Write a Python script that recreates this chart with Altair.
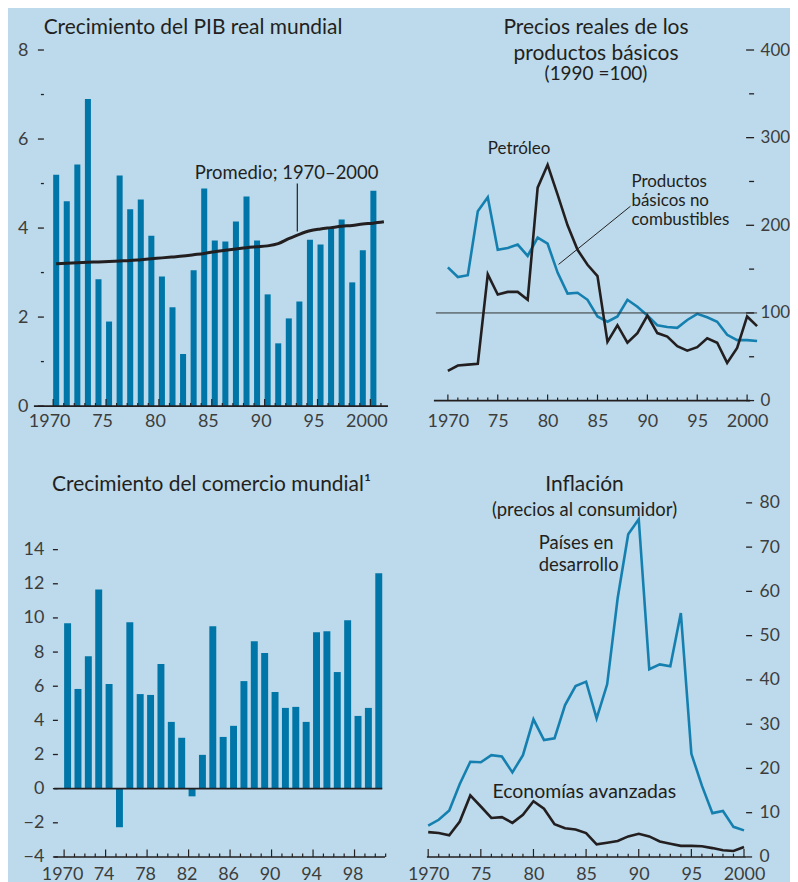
import altair as alt
import pandas as pd

# ---------------- data ----------------
years = list(range(1970, 2001))
gdp_growth = [5.2, 4.6, 5.43, 6.9, 2.85, 1.9, 5.18, 4.42, 4.64, 3.83, 2.91, 2.22, 1.17, 3.05, 4.89,
              3.72, 3.70, 4.15, 4.71, 3.72, 2.51, 1.41, 1.97, 2.35, 3.74, 3.63, 3.99, 4.19, 2.78, 3.50, 4.84]
avg_years = list(range(1970, 2002))
gdp_avg = [3.20, 3.21, 3.22, 3.23, 3.24, 3.25, 3.26, 3.27, 3.29, 3.31, 3.33, 3.35, 3.37, 3.40, 3.43, 3.47,
           3.50, 3.53, 3.56, 3.58, 3.60, 3.65, 3.76, 3.86, 3.94, 3.98, 4.01, 4.04, 4.06, 4.09, 4.11, 4.14]

price_years = list(range(1970, 2002))
nonfuel = [152, 141, 143, 216, 232, 172, 174, 178, 165, 186, 179, 146, 122, 123, 115, 96,
           90, 96, 115, 107, 97, 86, 84, 83, 92, 99, 95, 90, 75, 69, 69, 68]
oil = [34, 40, 41, 42, 144, 121, 124, 124, 115, 243, 269, 235, 200, 172, 155, 142,
       67, 86, 66, 77, 97, 77, 73, 62, 57, 61, 71, 66, 43, 60, 96, 85]

trade = [9.69, 5.84, 7.76, 11.67, 6.13, -2.26, 9.75, 5.54, 5.49, 7.30, 3.91, 2.98, -0.45, 1.98, 9.51,
         3.03, 3.68, 6.30, 8.64, 7.94, 5.66, 4.73, 4.79, 3.91, 9.16, 9.22, 6.83, 9.86, 4.26, 4.73, 12.61]

infl_dev = [7.1, 8.4, 10.5, 16.5, 21.5, 21.4, 23.0, 22.7, 19.1, 23.0, 31.1, 26.4, 26.8, 34.3, 38.6,
            39.6, 31.3, 39.0, 58.5, 72.9, 76.3, 42.4, 43.5, 43.1, 55.1, 23.3, 16.1, 9.9, 10.4, 6.8, 6.0]
infl_adv = [5.6, 5.4, 4.9, 8.0, 13.9, 11.4, 8.8, 9.0, 7.7, 9.5, 12.6, 10.9, 7.4, 6.5, 6.2,
            5.4, 2.85, 3.2, 3.6, 4.65, 5.25, 4.65, 3.5, 3.0, 2.5, 2.5, 2.4, 2.0, 1.5, 1.35, 2.25]

# annotation texts and anchor points (data units; first line for multi-line labels)
tl_notes = ["Promedio; 1970–2000"]
tl_note_x = [1983.4]
tl_note_y = [5.24]
tr_notes = ["Petróleo", "Productos\nbásicos no\ncombustibles"]
tr_note_x = [1974.0, 1988.4]
tr_note_y = [287, 249]
br_notes = ["Países en\ndesarrollo"]
br_note_x = [1980.5]
br_note_y = [71.0]
br_notes2 = ["Economías avanzadas"]
br_note2_x = [1976.1]
br_note2_y = [14.65]

# ---------------- style ----------------
BG = "#bcdaeb"
BAR = "#0076a8"
BLUE = "#1580b0"
DARK = "#231f20"
LABEL = "#3d3d3d"
FONT = "Lato"
TWO_DIGIT = "datum.value == 1970 || datum.value == 2000 ? datum.label : substring(datum.label, 2, 4)"


def xaxis(values, offset, padding, expr=TWO_DIGIT):
    return alt.Axis(values=values, tickCount=len(values), format="d", labelExpr=expr,
                    ticks=False, tickSize=0, domain=False, grid=False, labelPadding=padding,
                    labelOffset=offset, title=None, labelFont=FONT, labelFontSize=18,
                    labelColor=LABEL, labelOverlap=False)


def yaxis(values, offset, padding, orient="left", size=18):
    return alt.Axis(values=values, tickCount=len(values), ticks=False, tickSize=0, orient=orient,
                    domain=False, grid=False, labelPadding=padding, offset=offset,
                    title=None, labelFont=FONT, labelFontSize=size, labelColor=LABEL,
                    labelOverlap=False)


def xticks(start, end, every, xs, ys, base, major, minor):
    df = pd.DataFrame({"year": list(range(start, end + 1))})
    return alt.Chart(df).transform_calculate(
        b=f"{base}",
        t=f"(datum.year - {start}) % {every} == 0 ? {base + major} : {base + minor}",
    ).mark_rule(color=DARK, strokeWidth=1.2).encode(
        x=alt.X("year:Q", scale=xs), y=alt.Y("b:Q", scale=ys), y2="t:Q",
    )


def yticks(values, every, xs, ys, base, major, minor):
    df = pd.DataFrame({"v": values})
    return alt.Chart(df).transform_calculate(
        b=f"{base}",
        t=f"datum.v % {every} == 0 ? {base + major} : {base + minor}",
    ).mark_rule(color=DARK, strokeWidth=1.3).encode(
        y=alt.Y("v:Q", scale=ys), x=alt.X("b:Q", scale=xs), x2="t:Q",
    )


def hline(x0, x1, yv, xs, ys, color=DARK, width=1.6):
    df = pd.DataFrame({"x0": [x0], "x1": [x1], "y": [yv]})
    return alt.Chart(df).mark_rule(color=color, strokeWidth=width).encode(
        x=alt.X("x0:Q", scale=xs), x2="x1:Q", y=alt.Y("y:Q", scale=ys),
    )


def notes(texts, xs_, ys_, xs, ys, size=17.5, lh=18):
    df = pd.DataFrame({"t": texts, "x": xs_, "y": ys_})
    return alt.Chart(df).mark_text(align="left", baseline="middle", font=FONT, fontSize=size,
                                   color=DARK, lineBreak="\n", lineHeight=lh).encode(
        x=alt.X("x:Q", scale=xs), y=alt.Y("y:Q", scale=ys), text="t:N")


def title(text, dx, offset, subtitle=None, sub_size=19, sub_pad=2, lh=28):
    kw = dict(text=text, anchor="middle", dx=dx, offset=offset, font=FONT, fontSize=21,
              fontWeight="normal", color=DARK, lineHeight=lh)
    if subtitle is not None:
        kw.update(subtitle=subtitle, subtitleFont=FONT, subtitleFontSize=sub_size,
                  subtitleColor=DARK, subtitlePadding=sub_pad)
    return alt.TitleParams(**kw)


# ---------------- top-left: GDP growth ----------------
tl_x = alt.Scale(domain=[1968.18, 2001.67], nice=False, zero=False)
tl_y = alt.Scale(domain=[0, 8], nice=False)
gdp_df = pd.DataFrame({"year": years, "growth": gdp_growth})
avg_df = pd.DataFrame({"year": avg_years, "avg": gdp_avg})

tl_bars = alt.Chart(gdp_df).transform_calculate(
    x0="datum.year", x1="datum.year + 0.57", base="0"
).mark_rect(color=BAR).encode(
    x=alt.X("x0:Q", scale=tl_x, axis=xaxis(list(range(1970, 2001, 5)), -4, 6)),
    x2="x1:Q",
    y=alt.Y("growth:Q", scale=tl_y, axis=yaxis(list(range(0, 9, 2)), -10, 16)),
    y2="base:Q",
)
tl_line = alt.Chart(avg_df).transform_calculate(xc="datum.year + 0.28").mark_line(
    color=DARK, strokeWidth=3, interpolate="monotone").encode(
    x=alt.X("xc:Q", scale=tl_x), y=alt.Y("avg:Q", scale=tl_y))
tl_lead = pd.DataFrame({"x": [1993.09], "y0": [5.0], "y1": [3.92]})
tl_leader = alt.Chart(tl_lead).mark_rule(color=DARK, strokeWidth=1.2).encode(
    x=alt.X("x:Q", scale=tl_x), y=alt.Y("y0:Q", scale=tl_y), y2="y1:Q")

tl = alt.layer(
    tl_bars, tl_line, tl_leader,
    notes(tl_notes, tl_note_x, tl_note_y, tl_x, tl_y, size=18.5),
    hline(1968.18, 2001.67, 0, tl_x, tl_y),
    xticks(1970, 2001, 5, tl_x, tl_y, 0, 0.16, 0.07),
    yticks(list(range(0, 9)), 2, tl_x, tl_y, 1969.123, -0.566, -0.283),
).properties(width=355, height=357, title=title("Crecimiento del PIB real mundial", -18, 3))

# ---------------- top-right: commodity prices ----------------
tr_x = alt.Scale(domain=[1967.9, 2000.2], nice=False, zero=False)
tr_y = alt.Scale(domain=[-6.3, 400], nice=False, zero=False)
price_df = pd.DataFrame({"year": price_years, "nonfuel": nonfuel, "oil": oil})

tr_blue = alt.Chart(price_df).mark_line(color=BLUE, strokeWidth=2.6).encode(
    x=alt.X("year:Q", scale=tr_x, axis=xaxis(list(range(1970, 2001, 5)), 0, 6)),
    y=alt.Y("nonfuel:Q", scale=tr_y,
            axis=yaxis(list(range(0, 401, 100)), 0, 11, orient="right", size=17)),
)
tr_black = alt.Chart(price_df).mark_line(color=DARK, strokeWidth=2.6).encode(
    x=alt.X("year:Q", scale=tr_x), y=alt.Y("oil:Q", scale=tr_y))
tr_lead = pd.DataFrame({"x0": [1988.3], "x1": [1981.1], "y0": [221.7], "y1": [155.4]})
tr_leader = alt.Chart(tr_lead).mark_rule(color=DARK, strokeWidth=1).encode(
    x=alt.X("x0:Q", scale=tr_x), x2="x1:Q", y=alt.Y("y0:Q", scale=tr_y), y2="y1:Q")

tr = alt.layer(
    tr_blue,
    hline(1968.8, 2001.0, 100, tr_x, tr_y, color="#333333", width=1),
    tr_black, tr_leader,
    notes(tr_notes, tr_note_x, tr_note_y, tr_x, tr_y, size=17, lh=19),
    hline(1968.6, 2000.3, 0, tr_x, tr_y),
    xticks(1970, 2000, 5, tr_x, tr_y, 0, 6.9, 3.4),
    yticks(list(range(0, 401, 50)), 100, tr_x, tr_y, 2000.7, -0.8, -0.5),
).properties(width=323, height=357,
             title=title(["Precios reales de los", "productos básicos"], 8, -43.5, "(1990 =100)",
                         sub_pad=1, lh=27))

# ---------------- bottom-left: world trade ----------------
bl_x = alt.Scale(domain=[1967.09, 2000.94], nice=False, zero=False)
bl_y = alt.Scale(domain=[-4, 16.74], nice=False, zero=False)
trade_df = pd.DataFrame({"year": years, "trade": trade})

bl_bars = alt.Chart(trade_df).transform_calculate(
    x0="datum.year", x1="datum.year + 0.67", base="0"
).mark_rect(color=BAR).encode(
    x=alt.X("x0:Q", scale=bl_x, axis=xaxis(list(range(1970, 2000, 4)), -2, 9,
                                          "datum.value == 1970 ? datum.label : substring(datum.label, 2, 4)")),
    x2="x1:Q",
    y=alt.Y("trade:Q", scale=bl_y, axis=yaxis(list(range(-4, 15, 2)), -24, 14)),
    y2="base:Q",
)
bl = alt.layer(
    bl_bars,
    hline(1969.04, 2000.67, 0, bl_x, bl_y),
    hline(1969.04, 2000.94, -4, bl_x, bl_y),
    xticks(1970, 2001, 4, bl_x, bl_y, -4, 0.44, 0.2),
    yticks(list(range(-4, 15, 2)), 2, bl_x, bl_y, 1969.40, -0.48, -0.48),
).properties(width=352, height=355, title=title("Crecimiento del comercio mundial¹", 2, 8))

# ---------------- bottom-right: inflation ----------------
br_x = alt.Scale(domain=[1969.88, 2000.2], nice=False, zero=False)
br_y = alt.Scale(domain=[0, 80], nice=False)
infl_df = pd.DataFrame({"year": years, "dev": infl_dev, "adv": infl_adv})

br_blue = alt.Chart(infl_df).mark_line(color=BLUE, strokeWidth=2.6).encode(
    x=alt.X("year:Q", scale=br_x, axis=xaxis(list(range(1970, 2001, 5)), 0, 9)),
    y=alt.Y("dev:Q", scale=br_y,
            axis=yaxis(list(range(0, 81, 10)), 0, 13, orient="right", size=17.5)),
)
br_black = alt.Chart(infl_df).mark_line(color=DARK, strokeWidth=2.6).encode(
    x=alt.X("year:Q", scale=br_x), y=alt.Y("adv:Q", scale=br_y))
br = alt.layer(
    br_blue, br_black,
    notes(br_notes, br_note_x, br_note_y, br_x, br_y, size=18.5, lh=22),
    notes(br_notes2, br_note2_x, br_note2_y, br_x, br_y, size=19.5),
    hline(1969.88, 2000.2, 0, br_x, br_y),
    xticks(1970, 2000, 5, br_x, br_y, 0, 1.8, 0.75),
    yticks(list(range(0, 81, 10)), 10, br_x, br_y, 2000.2, 0.57, 0.57),
).properties(width=320, height=355,
             title=title("Inflación", -2, -26, "(precios al consumidor)", sub_size=18.5, sub_pad=6))

chart = alt.concat(tl, tr, bl, br, columns=2, spacing={"row": 97, "column": 39},
                   bounds="flush").properties(
    background=BG, padding={"left": 9, "top": 7, "right": 0, "bottom": 0}
).configure_view(strokeWidth=0)

chart.save("out.html", embed_options={"renderer": "svg", "actions": False})
